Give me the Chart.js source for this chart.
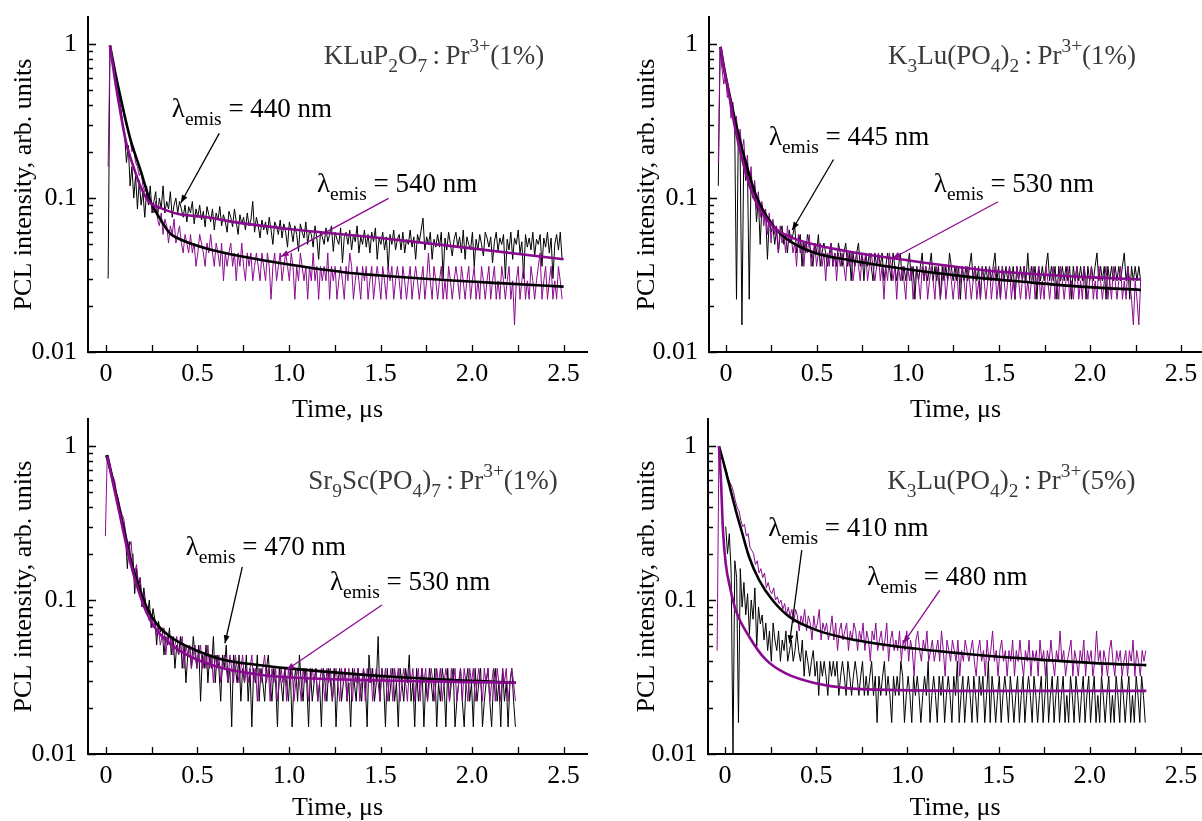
<!DOCTYPE html>
<html>
<head>
<meta charset="utf-8">
<script src="https://cdn.jsdelivr.net/npm/chart.js@4.4.0/dist/chart.umd.min.js"></script>
<style>
  html, body { margin: 0; padding: 0; background: #fff; }
  #wrap { position: relative; width: 1202px; height: 821px; overflow: hidden; }
  canvas { position: absolute; }
</style>
</head>
<body>
<div id="wrap">
  <canvas id="c1" width="600" height="423" style="left:0;top:0"></canvas>
  <canvas id="c2" width="602" height="423" style="left:600px;top:0"></canvas>
  <canvas id="c3" width="600" height="411" style="left:0;top:410px"></canvas>
  <canvas id="c4" width="602" height="411" style="left:600px;top:410px"></canvas>
</div>
<script>
const FONT = "'Liberation Serif', 'Times New Roman', serif";
const PURPLE = '#8a0a8f';

// axis ticks
const xLabels = [0, 0.5, 1.0, 1.5, 2.0, 2.5];
const xTickMarks = [0, 0.25, 0.5, 0.75, 1.0, 1.25, 1.5, 1.75, 2.0, 2.25, 2.5];
const yLabels = [0.01, 0.1, 1];
const yMinor = [0.02, 0.03, 0.04, 0.05, 0.06, 0.07, 0.08, 0.09, 0.2, 0.3, 0.4, 0.5, 0.6, 0.7, 0.8, 0.9];

// ---- panel 1: KLuP2O7:Pr3+(1%) ---- sampled every 0.01 us
const p1Start = 0.012, p1Step = 0.01;
const p1Black440 = [
  .030,.98,.85,.72,.62,.55,.45,.38,.30,.26,.17,.22,.12,.16,.10,.14,.085,.13,.09,.11,
  .075,.11,.09,.12,.08,.095,.11,.075,.10,.085,.12,.08,.095,.085,.11,.075,.09,.10,.08,.095,
  .085,.075,.09,.07,.088,.08,.095,.068,.085,.075,.09,.072,.082,.065,.088,.078,.07,.085,.062,.08,
  .072,.088,.066,.078,.07,.06,.082,.075,.065,.085,.07,.058,.078,.068,.075,.062,.08,.066,.072,.095,
  .06,.075,.066,.055,.072,.062,.07,.058,.075,.062,.05,.07,.065,.058,.072,.055,.068,.06,.048,.07,
  .062,.052,.066,.058,.045,.068,.06,.055,.07,.05,.062,.058,.048,.066,.055,.04,.06,.056,.05,.064,
  .052,.058,.066,.045,.06,.054,.05,.064,.038,.056,.06,.05,.062,.046,.058,.052,.066,.044,.056,.05,
  .062,.048,.058,.044,.06,.052,.064,.04,.055,.05,.06,.046,.056,.034,.058,.05,.062,.046,.054,.058,
  .046,.06,.044,.054,.05,.062,.048,.056,.04,.058,.052,.062,.074,.046,.056,.05,.06,.04,.054,.048,
  .058,.048,.06,.03,.055,.046,.06,.05,.042,.054,.06,.048,.056,.044,.062,.04,.056,.05,.046,.06,
  .036,.054,.046,.058,.05,.042,.06,.055,.048,.056,.038,.052,.06,.045,.055,.05,.058,.03,.054,.046,
  .06,.04,.055,.05,.062,.044,.052,.03,.058,.048,.055,.046,.06,.042,.054,.05,.058,.036,.055,.048,
  .06,.044,.055,.03,.05,.058,.046,.06,.04];
const p1Purple540 = [
  .16,.92,.82,.72,.62,.55,.5,.44,.38,.33,.30,.27,.24,.20,.21,.17,.16,.14,.15,.12,
  .11,.12,.095,.102,.088,.08,.095,.073,.066,.08,.058,.073,.066,.051,.066,.058,.073,.051,.058,.066,
  .051,.044,.058,.051,.044,.058,.044,.051,.036,.044,.058,.051,.044,.036,.051,.044,.058,.044,.036,.051,
  .044,.036,.051,.029,.044,.036,.044,.051,.036,.044,.029,.044,.036,.051,.036,.029,.044,.036,.044,.029,
  .036,.044,.036,.029,.044,.036,.029,.044,.036,.022,.036,.044,.029,.036,.044,.029,.036,.044,.036,.029,
  .044,.036,.022,.036,.029,.044,.036,.029,.036,.022,.036,.029,.044,.029,.036,.022,.036,.029,.036,.029,
  .044,.022,.036,.029,.036,.022,.029,.036,.029,.022,.036,.029,.044,.036,.022,.029,.036,.029,.022,.036,
  .029,.036,.022,.029,.036,.022,.029,.036,.029,.022,.036,.029,.022,.036,.029,.036,.022,.029,.036,.029,
  .022,.036,.029,.022,.029,.036,.022,.029,.036,.029,.022,.029,.036,.022,.029,.044,.029,.022,.036,.029,
  .022,.029,.036,.022,.029,.022,.036,.029,.022,.029,.036,.029,.022,.036,.029,.022,.029,.036,.022,.029,
  .036,.022,.029,.022,.036,.029,.022,.029,.036,.022,.029,.036,.022,.029,.022,.036,.029,.022,.029,.036,
  .022,.029,.015,.029,.036,.022,.029,.036,.022,.029,.022,.036,.029,.022,.029,.036,.044,.022,.029,.036,
  .022,.029,.036,.022,.029,.022,.036,.029,.022];
const p1FitBlackT = [.022,.05,.08,.13,.19,.24,.30,.35,.42,.55,.73,1.0,1.3,1.73,2.15,2.5];
const p1FitBlackV = [.98,.66,.45,.25,.15,.097,.072,.059,.053,.047,.042,.037,.033,.030,.028,.0266];
const p1FitPurpleT = [.022,.05,.08,.11,.15,.19,.24,.30,.39,.55,.73,1.0,1.5,1.94,2.5];
const p1FitPurpleV = [.98,.58,.355,.23,.16,.118,.093,.086,.079,.075,.069,.063,.055,.048,.040];

// ---- panel 2: K3Lu(PO4)2:Pr3+(1%) ----
const p2Start = -0.042, p2Step = 0.01;
const p2Black445 = [
  .12,.95,.85,.72,.6,.52,.48,.42,.36,.3,.022,.26,.2,.015,.2,.13,.17,.022,.14,.1,
  .12,.07,.1,.05,.09,.075,.08,.04,.072,.06,.066,.05,.062,.044,.058,.066,.05,.058,.044,.062,
  .051,.058,.066,.044,.051,.058,.036,.051,.044,.058,.051,.044,.036,.051,.044,.058,.036,.044,.051,.044,
  .036,.044,.051,.036,.044,.036,.051,.044,.036,.044,.051,.036,.044,.029,.044,.036,.044,.051,.036,.044,
  .029,.044,.036,.044,.036,.029,.044,.036,.044,.036,.044,.029,.036,.044,.036,.029,.044,.036,.029,.036,
  .044,.029,.036,.029,.036,.044,.029,.036,.022,.036,.029,.036,.044,.029,.036,.029,.036,.044,.029,.036,
  .029,.036,.022,.036,.029,.036,.029,.044,.036,.029,.036,.029,.036,.022,.036,.029,.036,.029,.036,.044,
  .029,.036,.029,.036,.022,.036,.029,.036,.029,.036,.029,.036,.044,.029,.036,.022,.036,.029,.036,.029,
  .036,.029,.036,.022,.036,.029,.036,.029,.036,.029,.044,.029,.036,.029,.036,.022,.036,.029,.036,.029,
  .036,.044,.029,.036,.029,.036,.022,.036,.029,.036,.029,.036,.029,.036,.022,.036,.029,.036,.029,.036,
  .029,.036,.022,.036,.029,.036,.029,.036,.044,.029,.036,.029,.036,.022,.036,.029,.036,.029,.036,.029,
  .036,.029,.036,.044,.029,.036,.022,.036,.029,.036,.029,.036,.029];
const p2Purple530 = [
  .17,.9,.7,.55,.62,.45,.5,.33,.42,.3,.34,.22,.28,.2,.24,.15,.19,.12,.16,.1,
  .13,.085,.11,.075,.095,.066,.085,.058,.08,.051,.073,.058,.066,.044,.066,.051,.058,.044,.066,.051,
  .058,.044,.051,.036,.058,.044,.051,.036,.051,.044,.058,.036,.044,.051,.036,.044,.051,.036,.044,.029,
  .044,.036,.051,.036,.044,.029,.044,.036,.044,.036,.029,.044,.036,.044,.029,.036,.044,.036,.029,.044,
  .036,.044,.029,.036,.044,.036,.029,.036,.044,.029,.036,.022,.036,.029,.044,.036,.029,.036,.022,.036,
  .029,.036,.029,.022,.036,.029,.036,.022,.029,.036,.029,.022,.036,.029,.036,.022,.029,.036,.029,.022,
  .036,.029,.022,.029,.036,.022,.029,.036,.029,.022,.029,.036,.022,.029,.036,.029,.022,.036,.029,.022,
  .029,.036,.022,.029,.022,.036,.029,.022,.029,.036,.022,.029,.036,.022,.029,.022,.036,.029,.022,.029,
  .036,.022,.029,.022,.036,.029,.022,.029,.036,.022,.029,.022,.029,.036,.022,.029,.036,.022,.029,.022,
  .036,.029,.022,.029,.036,.022,.029,.022,.036,.029,.022,.029,.036,.022,.029,.022,.029,.036,.022,.029,
  .022,.036,.029,.022,.029,.036,.022,.029,.022,.036,.029,.022,.029,.036,.022,.029,.022,.036,.029,.022,
  .029,.036,.022,.029,.022,.036,.029,.022,.015,.029,.022,.015,.029];
const p2FitBlackT = [-.03,-.01,.022,.059,.095,.132,.168,.224,.297,.388,.498,.68,.956,1.31,1.63,1.95,2.28];
const p2FitBlackV = [.96,.7,.455,.29,.195,.137,.102,.076,.059,.0495,.0437,.0395,.035,.031,.0286,.0266,.0253];
const p2FitPurpleT = [-.03,-.01,.013,.049,.086,.132,.187,.26,.352,.498,.68,.956,1.42,1.9,2.28];
const p2FitPurpleV = [.96,.68,.50,.29,.185,.118,.084,.065,.056,.0495,.0448,.040,.034,.031,.0296];

// ---- panel 3: Sr9Sc(PO4)7:Pr3+(1%) ----
const p3Start = -0.003, p3Step = 0.01;
const p3Black470 = [
  .87,.8,.72,.66,.58,.52,.47,.42,.38,.3,.3,.26,.16,.24,.17,.2,.11,.16,.12,.14,
  .09,.12,.095,.08,.1,.066,.088,.075,.051,.073,.062,.066,.044,.058,.051,.066,.044,.058,.036,.051,
  .044,.058,.036,.051,.029,.044,.051,.036,.058,.044,.036,.051,.022,.044,.036,.051,.029,.044,.036,.058,
  .029,.044,.036,.022,.044,.036,.051,.029,.036,.015,.044,.036,.029,.044,.022,.036,.029,.044,.022,.036,
  .015,.036,.029,.044,.022,.036,.029,.022,.036,.044,.029,.022,.036,.029,.015,.036,.029,.022,.036,.029,
  .022,.036,.015,.029,.036,.022,.044,.029,.022,.036,.029,.015,.036,.022,.029,.036,.022,.029,.015,.036,
  .029,.022,.036,.029,.022,.036,.015,.029,.036,.022,.029,.036,.022,.029,.015,.036,.029,.022,.036,.029,
  .022,.036,.029,.015,.044,.029,.036,.022,.029,.058,.022,.036,.029,.015,.036,.022,.029,.036,.022,.029,
  .015,.036,.029,.022,.036,.029,.044,.022,.029,.015,.036,.022,.029,.036,.015,.029,.022,.036,.029,.022,
  .036,.015,.029,.022,.036,.029,.015,.036,.022,.029,.036,.015,.022,.029,.036,.022,.015,.029,.036,.022,
  .029,.015,.036,.022,.029,.036,.015,.022,.029,.036,.022,.015,.029,.036,.022,.029,.015,.036,.022,.029,
  .015,.029,.036,.022,.015];
const p3Purple530 = [
  .26,.86,.78,.7,.64,.6,.5,.46,.4,.36,.34,.28,.24,.22,.24,.17,.15,.17,.13,.14,
  .1,.11,.09,.088,.073,.08,.066,.073,.058,.066,.051,.058,.066,.044,.058,.051,.058,.044,.051,.058,
  .044,.051,.058,.036,.051,.044,.051,.036,.044,.051,.036,.044,.051,.036,.044,.036,.051,.036,.044,.029,
  .044,.036,.044,.029,.036,.044,.036,.029,.044,.036,.029,.044,.036,.029,.036,.044,.029,.036,.029,.036,
  .044,.029,.036,.022,.036,.029,.036,.044,.029,.036,.022,.036,.029,.036,.022,.029,.036,.029,.036,.022,
  .036,.029,.036,.022,.029,.036,.029,.022,.036,.029,.036,.022,.029,.036,.029,.036,.022,.029,.036,.029,
  .022,.036,.029,.036,.022,.029,.036,.029,.022,.036,.029,.036,.022,.036,.029,.022,.036,.029,.036,.022,
  .029,.036,.022,.036,.029,.036,.022,.029,.036,.029,.022,.036,.029,.036,.022,.029,.036,.022,.036,.029,
  .036,.022,.029,.036,.029,.022,.036,.029,.036,.022,.029,.036,.022,.036,.029,.036,.022,.029,.036,.029,
  .022,.036,.029,.036,.022,.029,.036,.029,.022,.036,.029,.036,.022,.029,.036,.022,.036,.029,.022,.036,
  .029,.036,.022,.029,.036,.029,.022,.036,.029,.036,.022,.029,.036,.022,.036,.029,.022,.036,.029,.036,
  .022,.029,.036,.029,.022];
const p3FitBlackT = [.007,.058,.095,.131,.168,.222,.277,.35,.46,.64,.82,1.0,1.52,2.24];
const p3FitBlackV = [.875,.47,.30,.19,.135,.09,.07,.058,.049,.041,.038,.036,.032,.029];
const p3FitPurpleT = [.007,.058,.095,.131,.168,.222,.277,.35,.46,.64,.82,1.0,1.5,2.24];
const p3FitPurpleV = [.86,.45,.28,.18,.125,.083,.064,.052,.043,.036,.033,.0315,.030,.029];

// ---- panel 4: K3Lu(PO4)2:Pr3+(5%) ----
const p4PurpleStart = -0.043, p4BlackStart = 0.004, p4Step = 0.01;
const p4Purple480 = [
  .047,1.0,.88,.82,.72,.7,.62,.58,.55,.5,.44,.4,.38,.33,.3,.31,.26,.27,.22,.21,
  .2,.17,.18,.15,.16,.14,.15,.12,.13,.115,.11,.12,.1,.105,.095,.1,.087,.095,.08,.09,
  .079,.087,.071,.087,.079,.063,.079,.071,.087,.063,.079,.071,.055,.079,.063,.071,.087,.055,.071,.063,
  .071,.055,.063,.079,.055,.071,.047,.063,.071,.055,.063,.071,.047,.063,.055,.071,.063,.047,.063,.055,
  .071,.047,.063,.055,.04,.063,.055,.071,.047,.055,.063,.047,.055,.071,.04,.055,.063,.047,.055,.047,
  .063,.04,.055,.047,.063,.04,.055,.047,.032,.055,.063,.047,.04,.055,.047,.063,.04,.047,.055,.04,
  .047,.055,.04,.063,.047,.032,.055,.047,.04,.055,.047,.04,.055,.032,.047,.04,.055,.047,.04,.047,
  .055,.04,.032,.047,.055,.04,.047,.032,.055,.04,.047,.063,.04,.047,.032,.047,.055,.04,.047,.032,
  .047,.04,.055,.032,.047,.04,.055,.04,.032,.047,.04,.055,.032,.047,.04,.047,.032,.055,.04,.047,
  .032,.047,.04,.055,.04,.032,.047,.04,.063,.04,.047,.032,.04,.047,.055,.032,.047,.04,.032,.047,
  .04,.055,.032,.047,.04,.047,.032,.04,.063,.04,.047,.032,.047,.04,.032,.047,.055,.04,.032,.047,
  .04,.047,.032,.04,.047,.032,.047,.04,.055,.032,.047,.04,.032,.047,.04,.047];
const p4Black410 = [
  .30,.2,.27,.15,.01,.18,.14,.016,.16,.09,.13,.08,.11,.06,.1,.075,.12,.05,.09,.07,
  .08,.055,.071,.047,.063,.04,.071,.055,.047,.063,.04,.055,.047,.063,.04,.047,.055,.04,.047,.063,
  .047,.04,.055,.032,.047,.04,.032,.04,.047,.032,.04,.024,.04,.032,.04,.032,.024,.04,.032,.04,
  .032,.04,.024,.032,.04,.032,.024,.04,.032,.024,.032,.04,.032,.024,.032,.04,.024,.032,.024,.032,
  .04,.024,.032,.016,.032,.024,.032,.04,.024,.032,.024,.016,.032,.024,.032,.024,.04,.032,.016,.024,
  .032,.024,.016,.032,.024,.032,.024,.016,.024,.032,.024,.04,.016,.024,.032,.024,.016,.032,.024,.032,
  .016,.024,.032,.024,.016,.032,.024,.04,.016,.024,.032,.016,.024,.032,.024,.016,.032,.024,.016,.032,
  .024,.032,.016,.024,.04,.016,.032,.024,.016,.024,.032,.016,.024,.032,.024,.016,.032,.024,.016,.024,
  .032,.016,.024,.032,.016,.024,.032,.024,.016,.032,.024,.016,.024,.032,.016,.024,.04,.016,.024,.032,
  .016,.024,.032,.016,.024,.032,.016,.024,.016,.032,.024,.016,.032,.024,.016,.024,.032,.016,.024,.032,
  .016,.024,.032,.016,.024,.016,.032,.024,.016,.024,.032,.016,.024,.016,.032,.024,.016,.032,.024,.016,
  .024,.032,.016,.024,.016,.032,.024,.016,.032,.024,.016];
const p4FitBlackT = [-.033,-.01,.022,.059,.095,.132,.187,.26,.352,.498,.68,.956,1.3,1.63,2.05,2.31];
const p4FitBlackV = [1.0,.8,.57,.384,.271,.191,.135,.10,.078,.064,.056,.0497,.045,.0418,.0388,.0378];
const p4FitPurpleT = [-.033,-.022,-.011,.004,.031,.059,.132,.224,.333,.498,.68,.956,1.5,2.31];
const p4FitPurpleV = [1.0,.6,.285,.173,.116,.086,.058,.041,.0334,.0288,.0267,.026,.0257,.0257];

function series(t0, dt, vals) {
  return vals.map((v, i) => ({ x: +(t0 + i * dt).toFixed(3), y: v }));
}
function curve(ts, vs) {
  return ts.map((t, i) => ({ x: t, y: vs[i] }));
}

function drawRich(ctx, segs, x, y, size, color) {
  ctx.fillStyle = color;
  ctx.textAlign = 'left';
  ctx.textBaseline = 'alphabetic';
  for (const [txt, mode] of segs) {
    const s = mode ? size * 0.72 : size;
    ctx.font = s + 'px ' + FONT;
    const dy = mode === 'sub' ? size * 0.3 : mode === 'sup' ? -size * 0.45 : 0;
    ctx.fillText(txt, x, y + dy);
    x += ctx.measureText(txt).width;
  }
}

function arrow(ctx, x1, y1, x2, y2, color) {
  ctx.strokeStyle = color;
  ctx.fillStyle = color;
  ctx.lineWidth = 1.3;
  ctx.beginPath();
  ctx.moveTo(x1, y1);
  ctx.lineTo(x2, y2);
  ctx.stroke();
  const a = Math.atan2(y2 - y1, x2 - x1), L = 8, W = 3;
  const c = Math.cos(a), s = Math.sin(a);
  ctx.beginPath();
  ctx.moveTo(x2, y2);
  ctx.lineTo(x2 - L * c + W * s, y2 - L * s - W * c);
  ctx.lineTo(x2 - L * c - W * s, y2 - L * s + W * c);
  ctx.closePath();
  ctx.fill();
}

// inner tick marks, sample name and wavelength call-outs
const decor = {
  id: 'decor',
  afterDraw(chart, args, o) {
    const { ctx, chartArea: a, scales: { x, y } } = chart;
    ctx.save();
    ctx.strokeStyle = '#000';
    ctx.lineWidth = 1.3;
    ctx.beginPath();
    for (const v of xTickMarks) {
      const px = Math.round(x.getPixelForValue(v)) + 0.5;
      ctx.moveTo(px, a.bottom);
      ctx.lineTo(px, a.bottom - 7);
    }
    for (const v of yLabels) {
      const py = Math.round(y.getPixelForValue(v)) + 0.5;
      ctx.moveTo(a.left, py);
      ctx.lineTo(a.left + 8, py);
    }
    for (const v of yMinor) {
      const py = Math.round(y.getPixelForValue(v)) + 0.5;
      ctx.moveTo(a.left, py);
      ctx.lineTo(a.left + 5, py);
    }
    ctx.stroke();

    const px = p => [x.getPixelForValue(p[0]), y.getPixelForValue(p[1])];
    const [tx, ty] = px(o.titleAt);
    drawRich(ctx, o.title, tx, ty, 27, '#3a3a3a');
    for (const l of o.labels) {
      const [lx, ly] = px(l.at);
      drawRich(ctx, l.segs, lx, ly, 27, '#000');
      const [x1, y1] = px(l.from), [x2, y2] = px(l.to);
      arrow(ctx, x1, y1, x2, y2, l.color);
    }
    ctx.restore();
  }
};

function lam(nm) {
  return [['λ', ''], ['emis', 'sub'], [' = ' + nm + ' nm', '']];
}

function noPad(s) {
  s.paddingTop = 0; s.paddingBottom = 0; s.paddingLeft = 0; s.paddingRight = 0;
}

function makePanel(id, p) {
  new Chart(document.getElementById(id), {
    type: 'line',
    data: {
      datasets: [
        { data: curve(p.fitPurple[0], p.fitPurple[1]), borderColor: PURPLE, borderWidth: 2.6, cubicInterpolationMode: 'monotone' },
        { data: curve(p.fitBlack[0], p.fitBlack[1]), borderColor: '#000', borderWidth: 2.6, cubicInterpolationMode: 'monotone' },
        { data: p.purple, borderColor: PURPLE, borderWidth: 1 },
        { data: p.black, borderColor: '#000', borderWidth: 1 }
      ]
    },
    options: {
      responsive: false,
      animation: false,
      layout: { padding: { left: 0, right: p.padR, top: p.padT, bottom: 0 } },
      elements: { point: { radius: 0 }, line: { tension: 0 } },
      plugins: { legend: { display: false }, tooltip: { enabled: false }, decor: p.decor },
      scales: {
        x: {
          type: 'linear', min: p.xMin, max: p.xMax,
          grid: { display: false, drawTicks: false },
          border: { display: true, color: '#000', width: 2 },
          ticks: {
            font: { family: FONT, size: 26 }, color: '#000', padding: 7,
            maxRotation: 0, autoSkip: false,
            callback: v => v === 0 ? '0' : v.toFixed(1)
          },
          afterBuildTicks: s => { s.ticks = xLabels.map(v => ({ value: v })); },
          afterFit: s => { s.height = p.xH; noPad(s); },
          title: { display: true, text: 'Time, μs', color: '#000', padding: 0,
                   font: { family: FONT, size: 26, lineHeight: 1 } }
        },
        y: {
          type: 'logarithmic', min: 0.01, max: 1.5,
          grid: { display: false, drawTicks: false },
          border: { display: true, color: '#000', width: 2 },
          ticks: {
            font: { family: FONT, size: 26 }, color: '#000', padding: 11,
            autoSkip: false, callback: v => String(v)
          },
          afterBuildTicks: s => { s.ticks = yLabels.map(v => ({ value: v })); },
          afterFit: s => { s.width = p.yW; noPad(s); },
          title: { display: true, text: 'PCL intensity, arb. units', color: '#000',
                   padding: { top: p.yTitlePad, bottom: 0 },
                   font: { family: FONT, size: 26, lineHeight: 1 } }
        }
      }
    },
    plugins: [decor]
  });
}

makePanel('c1', {
  black: series(p1Start, p1Step, p1Black440),
  purple: series(p1Start, p1Step, p1Purple540),
  fitBlack: [p1FitBlackT, p1FitBlackV], fitPurple: [p1FitPurpleT, p1FitPurpleV],
  xMin: -0.098, xMax: 2.628, padR: 13, padT: 17, yW: 88, xH: 71, yTitlePad: 11,
  decor: {
    title: [['KLuP', ''], ['2', 'sub'], ['O', ''], ['7', 'sub'], ['\u2009:\u2009', ''], ['Pr', ''], ['3+', 'sup'], ['(1%)', '']],
    titleAt: [1.19, 0.74],
    labels: [
      { segs: lam(440), at: [0.36, 0.336], from: [0.619, 0.263], to: [0.409, 0.0928], color: '#000' },
      { segs: lam(540), at: [1.153, 0.11], from: [1.544, 0.0996], to: [0.955, 0.0416], color: PURPLE }
    ]
  }
});

makePanel('c2', {
  black: series(p2Start, p2Step, p2Black445),
  purple: series(p2Start, p2Step, p2Purple530),
  fitBlack: [p2FitBlackT, p2FitBlackV], fitPurple: [p2FitPurpleT, p2FitPurpleV],
  xMin: -0.093, xMax: 2.615, padR: 0, padT: 17, yW: 109, xH: 71, yTitlePad: 34,
  decor: {
    title: [['K', ''], ['3', 'sub'], ['Lu(PO', ''], ['4', 'sub'], [')', ''], ['2', 'sub'], ['\u2009:\u2009', ''], ['Pr', ''], ['3+', 'sup'], ['(1%)', '']],
    titleAt: [0.89, 0.74],
    labels: [
      { segs: lam(445), at: [0.236, 0.221], from: [0.591, 0.178], to: [0.364, 0.062], color: '#000' },
      { segs: lam(530), at: [1.142, 0.11], from: [1.495, 0.0946], to: [0.914, 0.0405], color: PURPLE }
    ]
  }
});

makePanel('c3', {
  black: series(p3Start, p3Step, p3Black470),
  purple: series(p3Start, p3Step, p3Purple530),
  fitBlack: [p3FitBlackT, p3FitBlackV], fitPurple: [p3FitPurpleT, p3FitPurpleV],
  xMin: -0.098, xMax: 2.628, padR: 13, padT: 9, yW: 88, xH: 67, yTitlePad: 11,
  decor: {
    title: [['Sr', ''], ['9', 'sub'], ['Sc(PO', ''], ['4', 'sub'], [')', ''], ['7', 'sub'], ['\u2009:\u2009', ''], ['Pr', ''], ['3+', 'sup'], ['(1%)', '']],
    titleAt: [1.105, 0.525],
    labels: [
      { segs: lam(470), at: [0.436, 0.196], from: [0.745, 0.164], to: [0.65, 0.0524], color: '#000' },
      { segs: lam(530), at: [1.224, 0.116], from: [1.508, 0.0928], to: [0.986, 0.0351], color: PURPLE }
    ]
  }
});

makePanel('c4', {
  black: series(p4BlackStart, p4Step, p4Black410),
  purple: series(p4PurpleStart, p4Step, p4Purple480),
  fitBlack: [p4FitBlackT, p4FitBlackV], fitPurple: [p4FitPurpleT, p4FitPurpleV],
  xMin: -0.093, xMax: 2.615, padR: 0, padT: 9, yW: 108, xH: 67, yTitlePad: 34,
  decor: {
    title: [['K', ''], ['3', 'sub'], ['Lu(PO', ''], ['4', 'sub'], [')', ''], ['2', 'sub'], ['\u2009:\u2009', ''], ['Pr', ''], ['3+', 'sup'], ['(5%)', '']],
    titleAt: [0.89, 0.525],
    labels: [
      { segs: lam(410), at: [0.237, 0.26], from: [0.421, 0.211], to: [0.354, 0.0524], color: '#000' },
      { segs: lam(480), at: [0.78, 0.125], from: [1.178, 0.116], to: [0.977, 0.0524], color: PURPLE }
    ]
  }
});
</script>
</body>
</html>
